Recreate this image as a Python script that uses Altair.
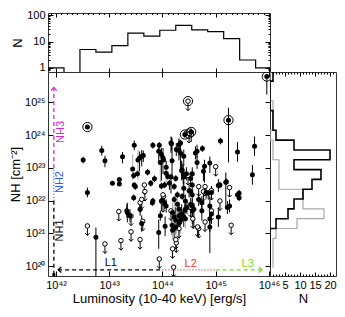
import altair as alt
import pandas as pd

FONT = "Liberation Sans"
MAGENTA = "#d42ad4"
BLUE = "#2f5cf0"
RED = "#ff3030"
GREEN = "#6fe01c"
GREY = "#a8a8a8"

# ---------------- data ----------------
# top histogram: luminosity bins (log L) and counts
lum_edges = [41.85, 42.15, 42.45, 42.75, 43.05, 43.35, 43.65, 43.95,
             44.25, 44.55, 44.85, 45.15, 45.45, 45.75, 46.05]
lum_counts = [1, 0, 5, 4, 7, 21, 16, 27, 41, 28, 24, 13, 2, 1]

# right histograms: NH bins (log NH) and counts
nh_edges = [19.95, 20.25, 20.55, 20.85, 21.15, 21.45, 21.75, 22.05, 22.35,
            22.65, 22.95, 23.25, 23.55, 23.85, 24.15, 24.45, 24.75, 25.05,
            25.35, 25.65, 25.95]
nh_counts_det = [0, 0, 0, 0, 2, 6, 8, 11, 14, 17, 8, 20, 8, 2, 1, 1, 0, 0, 0, 1]
nh_counts_lim = [1, 1, 1, 2, 9, 18, 11, 11, 3, 3, 3, 1, 1, 0, 1, 1, 1, 0, 0, 0]

# detections: log L, log NH, error below / above (dex), grey error bar flag
det_logL = [42.51, 42.59, 42.75, 42.86, 42.92, 43.06, 43.19, 43.19, 43.25, 43.34,
            43.44, 43.46, 43.47, 43.47, 43.46, 43.49, 43.54, 43.57, 43.61, 43.64,
            43.53, 43.58, 43.61, 43.72, 43.78, 43.81, 43.82, 43.82, 43.85, 43.93,
            43.94, 43.98, 43.96, 43.98, 43.93, 43.96, 43.98, 44.01, 44.02, 44.05,
            44.07, 44.07, 44.10, 44.13, 44.16, 44.17, 44.18, 44.04, 44.22, 44.04,
            44.07, 44.18, 44.19, 44.22, 44.28, 44.19, 44.22, 44.25, 44.22, 44.25,
            44.26, 44.31, 44.34, 44.31, 44.36, 44.25, 44.31, 44.34, 44.31, 44.36,
            44.31, 44.42, 44.28, 44.37, 44.40, 44.43, 44.46, 44.53, 44.56, 44.53,
            44.56, 44.59, 44.56, 44.34, 44.40, 44.45, 44.40, 44.56, 44.62, 44.65,
            44.75, 44.65, 44.79, 44.77, 44.89, 44.82, 44.92, 45.08, 45.20, 45.41,
            45.44, 44.68, 44.74, 44.74, 44.86, 44.89, 45.09, 45.41, 45.73, 45.69,
            45.19, 45.05, 44.50, 44.56, 44.37, 44.39, 44.53, 43.33, 43.39, 44.00,
            44.16, 44.40, 44.43, 44.89, 44.92, 45.05, 45.22, 45.26, 45.44, 44.89,
            42.59, 44.42, 44.54, 45.24, 45.96]
det_logNH = [23.24, 22.25, 20.88, 23.53, 23.22, 22.53, 22.65, 22.51, 23.34, 21.64,
             22.97, 22.77, 23.69, 22.48, 22.09, 22.43, 23.24, 23.30, 23.35, 23.38,
             22.82, 21.74, 21.30, 22.87, 22.53, 21.94, 23.69, 21.99, 22.67, 23.51,
             23.69, 23.41, 23.17, 22.45, 21.03, 21.54, 21.99, 23.31, 23.24, 21.22,
             22.84, 23.02, 22.74, 22.53, 22.72, 23.74, 23.22, 22.48, 22.43, 21.94,
             21.84, 21.25, 21.10, 22.04, 21.89, 21.64, 21.50, 21.40, 21.15, 22.68,
             23.56, 23.53, 23.45, 23.71, 22.92, 21.20, 21.30, 21.40, 21.54, 21.59,
             21.74, 21.71, 22.18, 22.13, 22.38, 21.99, 21.79, 22.28, 22.48, 21.89,
             21.84, 21.74, 21.69, 23.76, 23.36, 22.82, 22.72, 22.82, 23.46, 23.51,
             23.59, 23.17, 23.05, 22.90, 23.15, 22.26, 22.25, 22.48, 22.58, 22.18,
             22.23, 22.04, 21.94, 21.69, 22.23, 21.84, 23.82, 23.49, 23.66, 22.79,
             22.56, 22.46, 22.30, 22.18, 22.94, 22.79, 22.68, 21.69, 21.54, 22.01,
             23.76, 21.50, 21.45, 21.45, 21.59, 21.50, 21.79, 21.84, 22.09, 21.20,
             24.25, 24.02, 24.10, 24.46, 25.79]
det_elo = [0.10, 0.15, 1.20, 0.15, 0.20, 0.05, 0.05, 0.05, 0.20, 0.30,
           0.35, 0.10, 0.15, 0.08, 0.10, 0.10, 0.60, 0.40, 0.30, 0.20,
           0.10, 0.20, 0.25, 0.10, 0.10, 0.10, 0.10, 0.10, 0.10, 0.30,
           0.10, 0.80, 0.60, 0.10, 0.50, 0.15, 0.30, 0.50, 0.30, 0.30,
           0.30, 0.20, 0.10, 0.20, 0.50, 0.20, 0.50, 0.10, 0.10, 0.20,
           0.20, 0.30, 0.30, 0.10, 0.80, 0.40, 0.50, 0.40, 0.30, 0.10,
           0.20, 0.30, 0.60, 0.20, 0.30, 0.30, 0.50, 0.40, 0.20, 0.30,
           0.20, 0.20, 0.10, 0.10, 0.30, 0.20, 0.20, 0.10, 0.10, 0.20,
           0.30, 0.60, 0.40, 0.10, 0.30, 0.20, 0.20, 0.20, 0.20, 0.20,
           0.10, 0.20, 0.50, 0.30, 0.30, 0.20, 0.20, 0.10, 0.10, 0.10,
           0.10, 0.20, 0.30, 0.30, 0.20, 0.30, 0.10, 0.30, 0.30, 0.30,
           0.80, 0.20, 0.20, 0.20, 0.30, 0.30, 0.20, 0.20, 0.20, 0.10,
           0.30, 0.30, 0.30, 0.40, 0.30, 0.30, 0.20, 0.20, 0.10, 0.80,
           0.05, 0.10, 0.30, 1.29, 0.55]
det_ehi = [0.10, 0.15, 0.30, 0.15, 0.15, 0.05, 0.05, 0.05, 0.15, 0.30,
           0.45, 0.10, 0.15, 0.08, 0.10, 0.10, 0.30, 0.20, 0.20, 0.15,
           0.10, 0.20, 0.25, 0.10, 0.10, 0.10, 0.10, 0.10, 0.10, 0.20,
           0.10, 0.20, 0.30, 0.10, 0.40, 0.15, 0.10, 0.30, 0.20, 0.30,
           0.20, 0.20, 0.10, 0.10, 0.10, 0.20, 0.70, 0.10, 0.10, 0.20,
           0.20, 0.20, 0.30, 0.10, 0.20, 0.30, 0.50, 0.40, 0.30, 0.10,
           0.20, 0.30, 0.30, 0.20, 0.30, 0.30, 0.50, 0.40, 0.20, 0.30,
           0.20, 0.20, 0.10, 0.10, 0.20, 0.20, 0.20, 0.10, 0.10, 0.20,
           0.20, 0.20, 0.20, 0.10, 0.20, 0.20, 0.20, 0.20, 0.20, 0.20,
           0.10, 0.20, 0.20, 0.20, 0.20, 0.20, 0.20, 0.10, 0.10, 0.10,
           0.10, 0.20, 0.20, 0.30, 0.10, 0.30, 0.10, 0.30, 0.30, 0.30,
           0.30, 0.20, 0.20, 0.20, 0.20, 0.30, 0.20, 0.20, 0.20, 0.10,
           0.20, 0.30, 0.30, 0.30, 0.30, 0.30, 0.20, 0.20, 0.10, 0.60,
           0.05, 0.10, 0.10, 0.38, 0.05]
det_grey = [0, 0, 0, 0, 0, 0, 0, 0, 0, 0,
            1, 0, 0, 0, 0, 0, 1, 0, 0, 0,
            0, 0, 0, 0, 0, 0, 0, 0, 0, 0,
            0, 0, 1, 0, 0, 0, 0, 0, 1, 0,
            1, 0, 0, 0, 0, 0, 0, 0, 0, 0,
            0, 0, 1, 0, 1, 1, 1, 0, 0, 0,
            0, 0, 0, 0, 0, 1, 1, 1, 0, 0,
            0, 0, 0, 0, 0, 0, 0, 0, 0, 0,
            0, 0, 0, 0, 0, 0, 0, 0, 0, 0,
            0, 0, 0, 0, 0, 0, 0, 0, 0, 0,
            0, 0, 0, 0, 0, 0, 0, 0, 0, 0,
            0, 0, 0, 0, 0, 0, 0, 0, 0, 0,
            0, 0, 1, 0, 0, 0, 0, 0, 0, 0,
            0, 0, 0, 0, 0]

# upper limits on NH (open circles with arrows)
ul_logL = [42.59, 42.92, 43.18, 43.22, 43.41, 43.41, 43.58, 43.63, 43.58, 43.67,
           43.66, 43.61, 43.94, 44.01, 44.02, 44.16, 44.19, 44.21, 44.26, 44.25,
           44.31, 44.68, 44.68, 44.92, 45.00, 44.80, 45.26, 44.92, 44.77, 44.48,
           44.01, 44.53, 44.57, 44.66, 44.80, 45.08, 45.29, 44.48, 44.50]
ul_logNH = [21.23, 20.68, 21.67, 20.78, 21.53, 21.05, 20.81, 21.37, 21.94, 22.28,
            22.48, 22.04, 20.22, 21.94, 22.13, 21.69, 20.53, 19.97, 20.71, 20.81,
            21.15, 21.15, 22.43, 21.69, 23.04, 22.43, 22.40, 22.31, 22.28, 22.77,
            22.18, 21.79, 21.45, 21.20, 21.35, 21.99, 21.25, 25.04, 24.05]

# circled sources
ring_logL = [42.59, 44.42, 44.54, 45.24, 45.96, 44.48, 44.50]
ring_logNH = [24.25, 24.02, 24.10, 24.46, 25.79, 25.04, 24.05]

# region lines
seg_x1 = [41.96, 41.96, 41.96, 42.04, 44.00, 45.00]
seg_x2 = [41.96, 41.96, 41.96, 44.00, 45.00, 45.87]
seg_y1 = [19.74, 22.00, 23.00, 19.89, 19.89, 19.89]
seg_y2 = [22.00, 23.00, 25.46, 19.89, 19.89, 19.89]
seg_color = ["black", BLUE, MAGENTA, "black", RED, GREEN]
seg_dash = [[4, 3], [1, 2], [4, 3], [4, 3], [1, 2], [4, 3]]

arrow_logL = [41.96, 42.04, 45.87]
arrow_logNH = [25.46, 19.89, 19.89]
arrow_color = [MAGENTA, "black", GREEN]
arrow_shape = ["M-0.7,0.8L0,0L0.7,0.8", "M0.8,-0.7L0,0L0.8,0.7", "M-0.8,-0.7L0,0L-0.8,0.7"]

label_text = ["NH1", "NH2", "NH3", "L1", "L2", "L3"]
label_logL = [42.08, 42.08, 42.10, 43.03, 44.53, 45.60]
label_logNH = [21.09, 22.57, 24.10, 20.10, 20.06, 20.06]
label_color = ["black", BLUE, MAGENTA, "black", RED, GREEN]

x_ticks = [42, 43, 44, 45, 46]
y_ticks = [20, 21, 22, 23, 24, 25]
x_minor = [41.9, 42.1, 42.2, 42.3, 42.4, 42.5, 42.6, 42.7, 42.8, 42.9,
           43.1, 43.2, 43.3, 43.4, 43.5, 43.6, 43.7, 43.8, 43.9,
           44.1, 44.2, 44.3, 44.4, 44.5, 44.6, 44.7, 44.8, 44.9,
           45.1, 45.2, 45.3, 45.4, 45.5, 45.6, 45.7, 45.8, 45.9]
n_top_ticks = [1, 10, 100]
n_top_minor = [0.8, 0.9, 2, 3, 4, 5, 6, 7, 8, 9, 20, 30, 40, 50, 60, 70, 80, 90]
n_right_ticks = [5, 10, 15, 20]
n_right_minor = [1, 2, 3, 4, 6, 7, 8, 9, 11, 12, 13, 14, 16, 17, 18, 19, 21]

# ---------------- geometry ----------------
W, H, HT, R = 222, 204, 59, 66

xs = alt.Scale(domain=[41.85, 46.02], nice=False, zero=False)
ys = alt.Scale(domain=[19.7, 25.93], nice=False, zero=False)
ys_top = alt.Scale(type="log", domain=[0.7, 122], nice=False)
xs_right = alt.Scale(domain=[0, 22], nice=False, zero=False)

SUP = str.maketrans("0123456789", "⁰¹²³⁴⁵⁶⁷⁸⁹")


def pow_expr(vals):
    parts = [f"datum.value == {v} ? '10{str(v).translate(SUP)}'" for v in vals]
    return " : ".join(parts) + " : ''"


def tick_axis(orient, size, values):
    return alt.Axis(orient=orient, values=values, offset=-size, tickSize=size,
                    labels=False, domain=False, grid=False, title=None,
                    tickColor="black", tickWidth=1)


def label_axis(orient, size, values, title, **kw):
    return alt.Axis(orient=orient, values=values, offset=-size, tickSize=size,
                    domain=False, grid=False, title=title, tickColor="black",
                    tickWidth=1, labelPadding=3, titlePadding=2,
                    labelOverlap=False, labelBound=False, labelFlush=False, **kw)


# ---------------- main panel ----------------
det = pd.DataFrame({"logL": det_logL, "logNH": det_logNH})
det["lo"] = [n - e for n, e in zip(det_logNH, det_elo)]
det["hi"] = [n + e for n, e in zip(det_logNH, det_ehi)]
det["ecol"] = [GREY if g else "black" for g in det_grey]
det = det.sort_values("ecol", ascending=False)

ul = pd.DataFrame({"logL": ul_logL, "logNH": ul_logNH})
rings = pd.DataFrame({"logL": ring_logL, "logNH": ring_logNH})

NOAX_X = alt.X("logL:Q", scale=xs, axis=None)
NOAX_Y = alt.Y("logNH:Q", scale=ys, axis=None)

errbars = alt.Chart(det).mark_rule(strokeWidth=1, clip=True).encode(
    x=alt.X("logL:Q", scale=xs, axis=tick_axis("top", 5, x_ticks)),
    y=alt.Y("lo:Q", scale=ys, axis=tick_axis("right", 5, y_ticks)),
    y2="hi:Q",
    color=alt.Color("ecol:N", scale=None),
)

seg_layers = []
for i in range(len(seg_x1)):
    sdf = pd.DataFrame({"x1": [seg_x1[i]], "x2": [seg_x2[i]],
                        "y1": [seg_y1[i]], "y2": [seg_y2[i]]})
    seg_layers.append(
        alt.Chart(sdf).mark_rule(color=seg_color[i], strokeDash=seg_dash[i],
                                 strokeWidth=1.3, clip=True).encode(
            x=alt.X("x1:Q", scale=xs, axis=None), x2="x2:Q",
            y=alt.Y("y1:Q", scale=ys, axis=None), y2="y2:Q")
    )

arrow_layers = []
for i in range(len(arrow_logL)):
    adf = pd.DataFrame({"logL": [arrow_logL[i]], "logNH": [arrow_logNH[i]]})
    arrow_layers.append(
        alt.Chart(adf).mark_point(shape=arrow_shape[i], size=64, filled=False,
                                  color=arrow_color[i], strokeWidth=1.3,
                                  opacity=1).encode(x=NOAX_X, y=NOAX_Y)
    )

origin = alt.Chart(pd.DataFrame({"logL": [41.96], "logNH": [19.74]})).mark_point(
    shape="square", size=9, filled=True, color="black", opacity=1
).encode(x=NOAX_X, y=NOAX_Y)

ul_arrows = alt.Chart(ul).mark_point(
    shape="M0,0.45L0,1.9M-0.45,1.45L0,1.9L0.45,1.45", size=100, filled=False,
    color="black", strokeWidth=1, opacity=1, clip=True
).encode(x=NOAX_X, y=NOAX_Y)

ul_circles = alt.Chart(ul).mark_point(
    shape="circle", size=20, filled=True, fill="white", stroke="black",
    strokeWidth=1, opacity=1, fillOpacity=1, clip=True
).encode(x=NOAX_X, y=NOAX_Y)

ring_marks = alt.Chart(rings).mark_point(
    shape="circle", size=85, filled=False, color="black", strokeWidth=1,
    opacity=1, clip=True
).encode(x=NOAX_X, y=NOAX_Y)

dots = alt.Chart(det).mark_point(
    shape="circle", size=25, filled=True, color="black", opacity=1, clip=True
).encode(
    x=alt.X("logL:Q", scale=xs,
            axis=label_axis("bottom", 5, x_ticks, "Luminosity (10-40 keV) [erg/s]",
                            labelExpr=pow_expr(x_ticks))),
    y=alt.Y("logNH:Q", scale=ys,
            axis=label_axis("left", 5, y_ticks, "NH [cm⁻²]",
                            labelExpr=pow_expr(y_ticks))),
)

labels = pd.DataFrame({"t": label_text, "logL": label_logL,
                       "logNH": label_logNH, "c": label_color})
vlabels = alt.Chart(labels.iloc[:3]).mark_text(
    angle=270, font=FONT, fontSize=11, align="center", baseline="middle"
).encode(x=NOAX_X, y=NOAX_Y, text="t:N", color=alt.Color("c:N", scale=None))
hlabels = alt.Chart(labels.iloc[3:]).mark_text(
    font=FONT, fontSize=11, align="center", baseline="middle"
).encode(x=NOAX_X, y=NOAX_Y, text="t:N", color=alt.Color("c:N", scale=None))

main = alt.layer(
    errbars, *seg_layers, *arrow_layers, origin, ul_arrows, ul_circles,
    ring_marks, dots, vlabels, hlabels
).properties(width=W, height=H).resolve_axis(x="independent", y="independent")

# ---------------- top histogram ----------------
top_rows = []
for i, c in enumerate(lum_counts):
    v = c if c > 0 else 0.1
    top_rows.append({"x": lum_edges[i], "y": v, "o": 2 * i})
    top_rows.append({"x": lum_edges[i + 1], "y": v, "o": 2 * i + 1})
top_df = pd.DataFrame(top_rows)
dummy_top = pd.DataFrame({"x": [44.0], "y": [10.0]})

top_line = alt.Chart(top_df).mark_line(color="black", strokeWidth=1.2,
                                       clip=True).encode(
    x=alt.X("x:Q", scale=xs, axis=tick_axis("bottom", 4, x_ticks)),
    y=alt.Y("y:Q", scale=ys_top,
            axis=label_axis("left", 5, n_top_ticks, "N", format="d")),
    order="o:Q",
)
top_d1 = alt.Chart(dummy_top).mark_point(opacity=0).encode(
    x=alt.X("x:Q", scale=xs, axis=tick_axis("top", 4, x_ticks)),
    y=alt.Y("y:Q", scale=ys_top, axis=tick_axis("left", 2, n_top_minor)),
)
top_d2 = alt.Chart(dummy_top).mark_point(opacity=0).encode(
    x=alt.X("x:Q", scale=xs, axis=tick_axis("top", 1.5, x_minor)),
    y=alt.Y("y:Q", scale=ys_top, axis=tick_axis("right", 5, n_top_ticks)),
)
top_d3 = alt.Chart(dummy_top).mark_point(opacity=0).encode(
    x=alt.X("x:Q", scale=xs, axis=None),
    y=alt.Y("y:Q", scale=ys_top, axis=tick_axis("right", 2, n_top_minor)),
)
top = alt.layer(top_line, top_d1, top_d2, top_d3).properties(
    width=W, height=HT).resolve_axis(x="independent", y="independent")

# ---------------- right histogram ----------------
right_rows = []
for name, counts in (("lim", nh_counts_lim), ("det", nh_counts_det)):
    for i, c in enumerate(counts):
        right_rows.append({"s": name, "n": c, "nh": nh_edges[i], "o": 2 * i})
        right_rows.append({"s": name, "n": c, "nh": nh_edges[i + 1], "o": 2 * i + 1})
right_df = pd.DataFrame(right_rows)
dummy_right = pd.DataFrame({"n": [10.0], "nh": [22.0]})

r_lim = alt.Chart(right_df[right_df.s == "lim"]).mark_line(
    color=GREY, strokeWidth=1.2, clip=True).encode(
    x=alt.X("n:Q", scale=xs_right,
            axis=label_axis("bottom", 4, n_right_ticks, "N")),
    y=alt.Y("nh:Q", scale=ys, axis=None),
    order="o:Q",
)
r_det = alt.Chart(right_df[right_df.s == "det"]).mark_line(
    color="black", strokeWidth=1.6, clip=True).encode(
    x=alt.X("n:Q", scale=xs_right, axis=tick_axis("top", 4, n_right_ticks)),
    y=alt.Y("nh:Q", scale=ys, axis=None),
    order="o:Q",
)
r_d1 = alt.Chart(dummy_right).mark_point(opacity=0).encode(
    x=alt.X("n:Q", scale=xs_right, axis=tick_axis("bottom", 2, n_right_minor)),
    y=alt.Y("nh:Q", scale=ys, axis=None),
)
r_d2 = alt.Chart(dummy_right).mark_point(opacity=0).encode(
    x=alt.X("n:Q", scale=xs_right, axis=tick_axis("top", 2, n_right_minor)),
    y=alt.Y("nh:Q", scale=ys, axis=None),
)
right = alt.layer(r_lim, r_det, r_d1, r_d2).properties(
    width=R, height=H).resolve_axis(x="independent", y="independent")

# ---------------- assemble ----------------
chart = alt.vconcat(
    top,
    alt.hconcat(main, right, spacing=0, bounds="flush"),
    spacing=0, bounds="flush",
).properties(padding=0).configure_view(
    stroke="#333333", strokeWidth=1
).configure_axis(
    labelFont=FONT, titleFont=FONT, labelFontSize=11, titleFontSize=13,
    titleFontWeight="normal", labelColor="black", titleColor="black",
)

chart.save("out.html", embed_options={"renderer": "svg", "actions": False})
